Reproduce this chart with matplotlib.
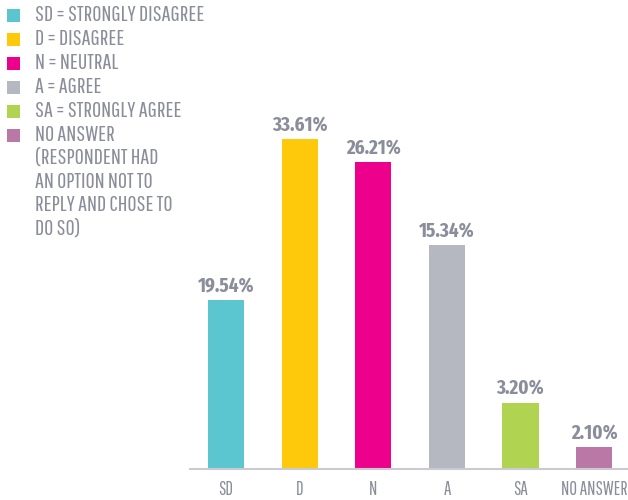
import matplotlib
matplotlib.use("Agg")
import matplotlib.pyplot as plt
from matplotlib.patches import Rectangle

# data
categories = ["SD", "D", "N", "A", "SA", "NO ANSWER"]
value_labels = ["19.54%", "33.61%", "26.21%", "15.34%", "3.20%", "2.10%"]
# bar heights as drawn (the picture does not keep them to scale with the labels)
bar_heights = [17.2, 33.6, 31.3, 22.8, 6.8, 2.3]
legend_labels = [
    "SD = STRONGLY DISAGREE",
    "D = DISAGREE",
    "N = NEUTRAL",
    "A = AGREE",
    "SA = STRONGLY AGREE",
    "NO ANSWER\n(RESPONDENT HAD\nAN OPTION NOT TO\nREPLY AND CHOSE TO\nDO SO)",
]
colors = ["#5bc5d0", "#fec80b", "#ec008c", "#b5b8c0", "#b0d352", "#b978a6"]
text_gray = "#8b8e9a"

cond = ["Pathway Gothic One", "Barlow Condensed", "Open Sans", "DejaVu Sans"]
cond_bold = ["Fira Sans Extra Condensed", "Barlow Condensed", "DejaVu Sans"]
plt.rcParams["font.family"] = cond

fig = plt.figure(figsize=(6.28, 5), dpi=100)
ax = fig.add_axes([0.3025, 0.0614, 0.6975, 0.7386])

x = range(len(categories))
bars = ax.bar(x, bar_heights, width=0.49, color=colors)
for b, lab in zip(bars, value_labels):
    ax.annotate(lab, (b.get_x() + b.get_width() / 2, b.get_height()),
                xytext=(0, 6.2), textcoords="offset points", ha="center", va="baseline",
                fontsize=14.8, fontweight="bold", family=cond_bold, color=text_gray)

ax.set_xlim(-0.49, 5.46)
ax.set_ylim(0, 37.6)
ax.set_xticks(list(x))
ax.set_xticklabels(categories, fontsize=13.5, color=text_gray)
ax.tick_params(axis="x", length=0, pad=7.5)
ax.set_yticks([])
for s in ["top", "right", "left"]:
    ax.spines[s].set_visible(False)
ax.spines["bottom"].set_color("#c9cbd0")
ax.spines["bottom"].set_linewidth(1.5)

# legend drawn by hand, pixel positions from the top left
W, H = 628, 500
y0, step, line_h = 15.5, 24.0, 23.5
for i, (lab, c) in enumerate(zip(legend_labels, colors)):
    yc = y0 + i * step
    fig.add_artist(Rectangle((7.3 / W, 1 - (yc + 6.2) / H), 12.6 / W, 12.6 / H,
                             transform=fig.transFigure, color=c, lw=0))
    for j, line in enumerate(lab.split("\n")):
        fig.text(35 / W, 1 - (yc + 5.2 + j * line_h) / H, line, fontsize=16.1,
                 color=text_gray, va="baseline", ha="left")

fig.savefig("out.png")
